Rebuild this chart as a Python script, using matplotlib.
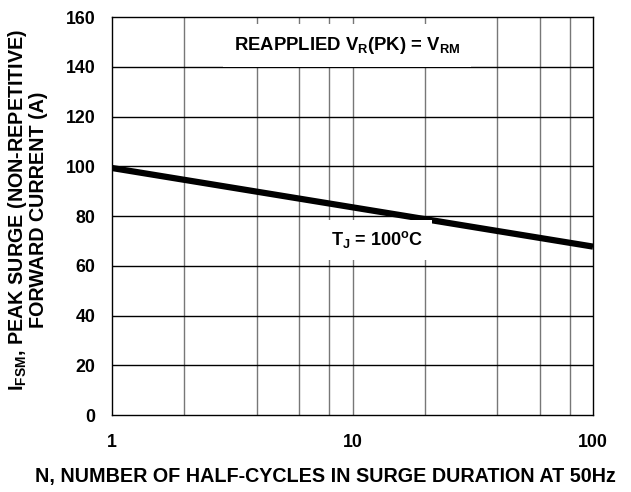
import numpy as np
import matplotlib.pyplot as plt

plt.rcParams['font.family'] = ['Liberation Sans', 'DejaVu Sans']
plt.rcParams['font.weight'] = 'bold'
plt.rcParams['mathtext.fontset'] = 'custom'
plt.rcParams['mathtext.rm'] = 'Liberation Sans:bold'
plt.rcParams['mathtext.it'] = 'Liberation Sans:bold'
plt.rcParams['mathtext.bf'] = 'Liberation Sans:bold'

# data
cycles = [1, 10, 100]
current = [99.3, 83.5, 67.7]

x_grid = [2, 4, 6, 8, 10, 20, 40, 60, 80]
y_ticks = [0, 20, 40, 60, 80, 100, 120, 140, 160]
x_ticks = [1, 10, 100]
x_ticklabels = ['1', '10', '100']

fig = plt.figure(figsize=(6.31, 4.92), dpi=100)
ax = fig.add_axes([0.1775, 0.1565, 0.7623, 0.8089])

ax.set_xscale('log')
ax.set_xlim(1, 100)
ax.set_ylim(0, 160)

for xv in x_grid:
    ax.axvline(xv, color='#777777', lw=1.0, zorder=1)
for yv in y_ticks[1:-1]:
    ax.axhline(yv, color='black', lw=1.0, zorder=1)

ax.plot(cycles, current, color='black', lw=4.5, solid_capstyle='butt', zorder=3)

ax.set_xticks(x_ticks)
ax.set_xticklabels(x_ticklabels)
ax.xaxis.set_minor_locator(plt.NullLocator())
ax.set_yticks(y_ticks)
ax.tick_params(length=0, labelsize=12.8)
ax.tick_params(axis='x', pad=14)
ax.tick_params(axis='y', pad=12)
for lab in ax.get_xticklabels() + ax.get_yticklabels():
    lab.set_fontweight('bold')

for s in ax.spines.values():
    s.set_linewidth(1.0)
    s.set_zorder(4)

ax.text(9.5, 148.5, r'REAPPLIED V$_{R}$(PK) = V$_{RM}$', ha='center', va='center',
        fontsize=13.3, fontweight='bold', zorder=5,
        bbox=dict(facecolor='white', edgecolor='none', pad=8))
ax.text(12.6, 70.4, r'T$_{J}$ = 100$^{o}$C', ha='center', va='center',
        fontsize=13, fontweight='bold', zorder=5,
        bbox=dict(facecolor='white', edgecolor='none', pad=7))

fig.text(0.515, 0.032, 'N, NUMBER OF HALF-CYCLES IN SURGE DURATION AT 50Hz',
         ha='center', va='center', fontsize=14.2, fontweight='bold')
fig.text(0.043, 0.573, 'I$_{FSM}$, PEAK SURGE (NON-REPETITIVE)\nFORWARD CURRENT (A)',
         ha='center', va='center', rotation=90, multialignment='center',
         fontsize=14.2, fontweight='bold', linespacing=1.0)

fig.savefig('out.png', dpi=100)
